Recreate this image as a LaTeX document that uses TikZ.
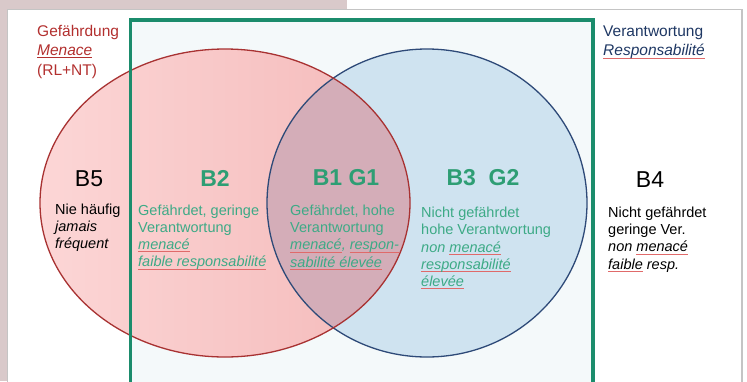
\documentclass[tikz,border=0pt]{standalone}
\usepackage{fontspec}
\setmainfont{Liberation Sans}
\usepackage{xcolor}
\usepackage{tikz}
\usetikzlibrary{positioning}
\definecolor{bgpink}{HTML}{D9C9CA}
\definecolor{framegray}{HTML}{C4C4C4}
\definecolor{boxgreen}{HTML}{1B8C6C}
\definecolor{boxfill}{HTML}{F4F9FA}
\definecolor{lblgreen}{HTML}{2E9E74}
\definecolor{txtgreen}{HTML}{3DAA86}
\definecolor{redL}{HTML}{FCD6D6}
\definecolor{redR}{HTML}{F4B9B9}
\definecolor{redline}{HTML}{A83232}
\definecolor{bluefill}{HTML}{CFE3F0}
\definecolor{blueline}{HTML}{2E4A78}
\definecolor{lens}{HTML}{D4ADB8}
\definecolor{gefred}{HTML}{B3302F}
\definecolor{vernavy}{HTML}{1F3864}
\definecolor{spell}{HTML}{E06A6A}
\newcommand{\spl}[1]{\setbox0\hbox{#1}\rlap{\color{spell}\rule[-2.6pt]{\wd0}{0.7pt}}\box0\relax}
\tikzset{
    big/.style = {inner sep=0pt, anchor=base, font=\fontsize{23}{23}\selectfont},
    biggreen/.style = {big, text=lblgreen, font=\fontsize{23}{23}\selectfont\bfseries},
    % base of a multi-line node = baseline of its last line
    body/.style = {inner sep=0pt, anchor=base west, align=left, font=\fontsize{14.5}{17.2}\selectfont},
    head/.style = {inner sep=0pt, anchor=base west, align=left, font=\fontsize{15.5}{19.6}\selectfont}
}
\begin{document}
\begin{tikzpicture}[x=1pt, y=-1pt]
    \useasboundingbox (0,0) rectangle (747,381);
    % slide background
    \fill [white] (0,0) rectangle (747,381);
    \fill [bgpink] (0,0) rectangle (347,9);
    \fill [bgpink] (0,0) rectangle (7,381);
    \draw [framegray, line width=1.5pt] (7.5,400) -- (7.5,9.5) -- (742,9.5) -- (742,400);
    \fill [boxfill] (130.5,20) rectangle (593,400);
    % the two circles
    \coordinate (rc) at (225,203);
    \coordinate (bc) at (427,203);
    \shade [left color=redL, right color=redR] (rc) ellipse [x radius=185pt, y radius=154pt];
    \fill [bluefill] (bc) ellipse [x radius=160pt, y radius=154pt];
    \begin{scope}
        \clip (rc) ellipse [x radius=185pt, y radius=154pt];
        \fill [lens] (bc) ellipse [x radius=160pt, y radius=154pt];
    \end{scope}
    \draw [blueline, line width=1.3pt] (bc) ellipse [x radius=160pt, y radius=154pt];
    \draw [redline, line width=1.3pt] (rc) ellipse [x radius=185pt, y radius=154pt];
    \draw [boxgreen, line width=3.8pt] (130.5,400) -- (130.5,20) -- (593,20) -- (593,400);
    % headings
    \node [head, text=gefred] (gef) at (37,75.2) {Gefährdung\\\textit{\underline{Menace}}\\(RL+NT)};
    \node [head, text=vernavy] (ver) at (603,55.6) {Verantwortung\\\textit{\spl{Responsabilité}}};
    % fields
    \node [big] (b5) at (89,186) {B5};
    \node [body] (b5txt) at (55,248.4) {Nie häufig\\\textit{jamais}\\\textit{fréquent}};
    \node [biggreen] (b2) at (215,186) {B2};
    \node [body, text=txtgreen] (b2txt) at (138,266.6) {Gefährdet, geringe\\Verantwortung\\\textit{\spl{menacé}}\\\textit{\spl{faible responsabilité}}};
    \node [biggreen] (b1) at (346,185) {B1 G1};
    \node [body, text=txtgreen] (b1txt) at (290,267) {Gefährdet, hohe\\Verantwortung\\\textit{\spl{menacé}, \spl{respon-}}\\\textit{\spl{sabilité élevée}}};
    \node [biggreen] (b3) at (483,185) {B3\ \ G2};
    \node [body, text=txtgreen] (b3txt) at (421,286.5) {Nicht gefährdet\\hohe Verantwortung\\\textit{non \spl{menacé}}\\\textit{\spl{responsabilité}}\\\textit{\spl{élevée}}};
    \node [big] (b4) at (650,187) {B4};
    \node [body] (b4txt) at (608,269) {Nicht gefährdet\\geringe Ver.\\\textit{non \spl{menacé}}\\\textit{\spl{faible} resp.}};
\end{tikzpicture}
\end{document}
